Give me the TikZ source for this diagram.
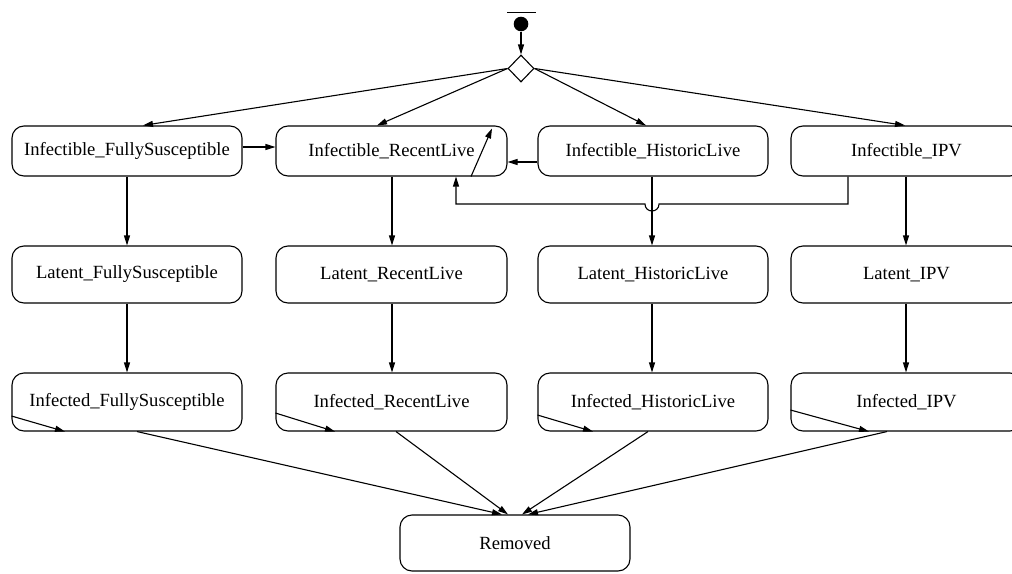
\documentclass[tikz,border=0pt]{standalone}
\usepackage{fontspec}
\setmainfont{Liberation Serif}
\usetikzlibrary{arrows.meta,shapes.geometric}
\begin{document}
\begin{tikzpicture}[x=1pt,y=-1pt,
  state/.style={draw,rounded corners=12pt,line width=1.1pt,minimum width=230pt,inner sep=0pt,
    font=\fontsize{18.6}{22}\selectfont},
  r1/.style={state,minimum height=50pt},
  r2/.style={state,minimum height=57pt},
  r3/.style={state,minimum height=58pt},
  conn/.style={line width=1.1pt,-{Triangle[length=10pt,width=6pt]}},
  plain/.style={line width=1.1pt}]
\clip (0,0) rectangle (1012,573);
% initial
\draw[plain] (507,12.3) -- (536,12.3);
\node[circle,fill=black,minimum size=14.6pt,inner sep=0pt] (start) at (521,24) {};
\node[diamond,draw,line width=1.1pt,minimum width=26pt,minimum height=27pt,inner sep=0pt] (dec) at (521,68.5) {};
% row 1
\node[r1] (iFS) at (127,151) {Infectible\_FullySusceptible};
\node[r1,minimum width=231pt] (iRL) at (391.5,151) {Infectible\_RecentLive};
\node[r1] (iHL) at (653,151) {Infectible\_HistoricLive};
\node[r1,minimum width=231pt] (iIPV) at (906.5,151) {Infectible\_IPV};
% row 2
\node[r2] (lFS) at (127,274.5) {Latent\_FullySusceptible};
\node[r2,minimum width=231pt] (lRL) at (391.5,274.5) {Latent\_RecentLive};
\node[r2] (lHL) at (653,274.5) {Latent\_HistoricLive};
\node[r2,minimum width=231pt] (lIPV) at (906.5,274.5) {Latent\_IPV};
% row 3
\node[r3] (fFS) at (127,402) {Infected\_FullySusceptible};
\node[r3,minimum width=231pt] (fRL) at (391.5,402) {Infected\_RecentLive};
\node[r3] (fHL) at (653,402) {Infected\_HistoricLive};
\node[r3,minimum width=231pt] (fIPV) at (906.5,402) {Infected\_IPV};
% removed
\node[state,minimum height=56pt] (rem) at (515,543) {Removed};
% connectors
\draw[conn] (start) -- (dec.north);
\draw[conn] (dec.west) -- ([xshift=16pt]iFS.north);
\draw[conn] (dec.west) -- ([xshift=-14.5pt]iRL.north);
\draw[conn] (dec.east) -- ([xshift=-7pt]iHL.north);
\draw[conn] (dec.east) -- ([xshift=-1.5pt]iIPV.north);
\draw[conn] ([yshift=4pt]iFS.east) -- ([yshift=4pt]iRL.west);
\draw[conn] ([yshift=-11pt]iHL.west) -- ([yshift=-11pt]iRL.east);
\draw[conn] ([xshift=79.5pt]iRL.south) -- ([xshift=100.5pt,yshift=-3pt]iRL.north);
\coordinate (b1) at (848,204);
\coordinate (b2) at (456,204);
\draw[conn] ([xshift=-58.5pt]iIPV.south) -- (b1) -- (659,204)
  .. controls (659,213.3) and (645,213.3) .. (645,204) -- (b2) -- ([xshift=64.5pt]iRL.south);
% verticals
\draw[conn] (iFS) -- (lFS);
\draw[conn] (lFS) -- (fFS);
\draw[conn] ([xshift=0.5pt]iRL.south) -- ([xshift=0.5pt]lRL.north);
\draw[conn] ([xshift=0.5pt]lRL.south) -- ([xshift=0.5pt]fRL.north);
\draw[conn] ([xshift=-1pt]iHL.south) -- ([xshift=-1pt]lHL.north);
\draw[conn] ([xshift=-1pt]lHL.south) -- ([xshift=-1pt]fHL.north);
\draw[conn] ([xshift=-0.5pt]iIPV.south) -- ([xshift=-0.5pt]lIPV.north);
\draw[conn] ([xshift=-0.5pt]lIPV.south) -- ([xshift=-0.5pt]fIPV.north);
% self loops
\draw[conn] ([yshift=-14pt]fFS.west) -- ([xshift=-62pt]fFS.south);
\draw[conn] ([yshift=-11pt]fRL.west) -- ([xshift=-56.5pt]fRL.south);
\draw[conn] ([yshift=-13pt]fHL.west) -- ([xshift=-60pt]fHL.south);
\draw[conn] ([yshift=-8pt]fIPV.west) -- ([xshift=-37.5pt]fIPV.south);
% to removed
\draw[conn] ([xshift=10pt]fFS.south) -- ([xshift=-13pt]rem.north);
\draw[conn] ([xshift=4.5pt]fRL.south) -- ([xshift=-7pt]rem.north);
\draw[conn] ([xshift=-5pt]fHL.south) -- ([xshift=7pt]rem.north);
\draw[conn] ([xshift=-19.5pt]fIPV.south) -- ([xshift=13pt]rem.north);
\end{tikzpicture}
\end{document}
